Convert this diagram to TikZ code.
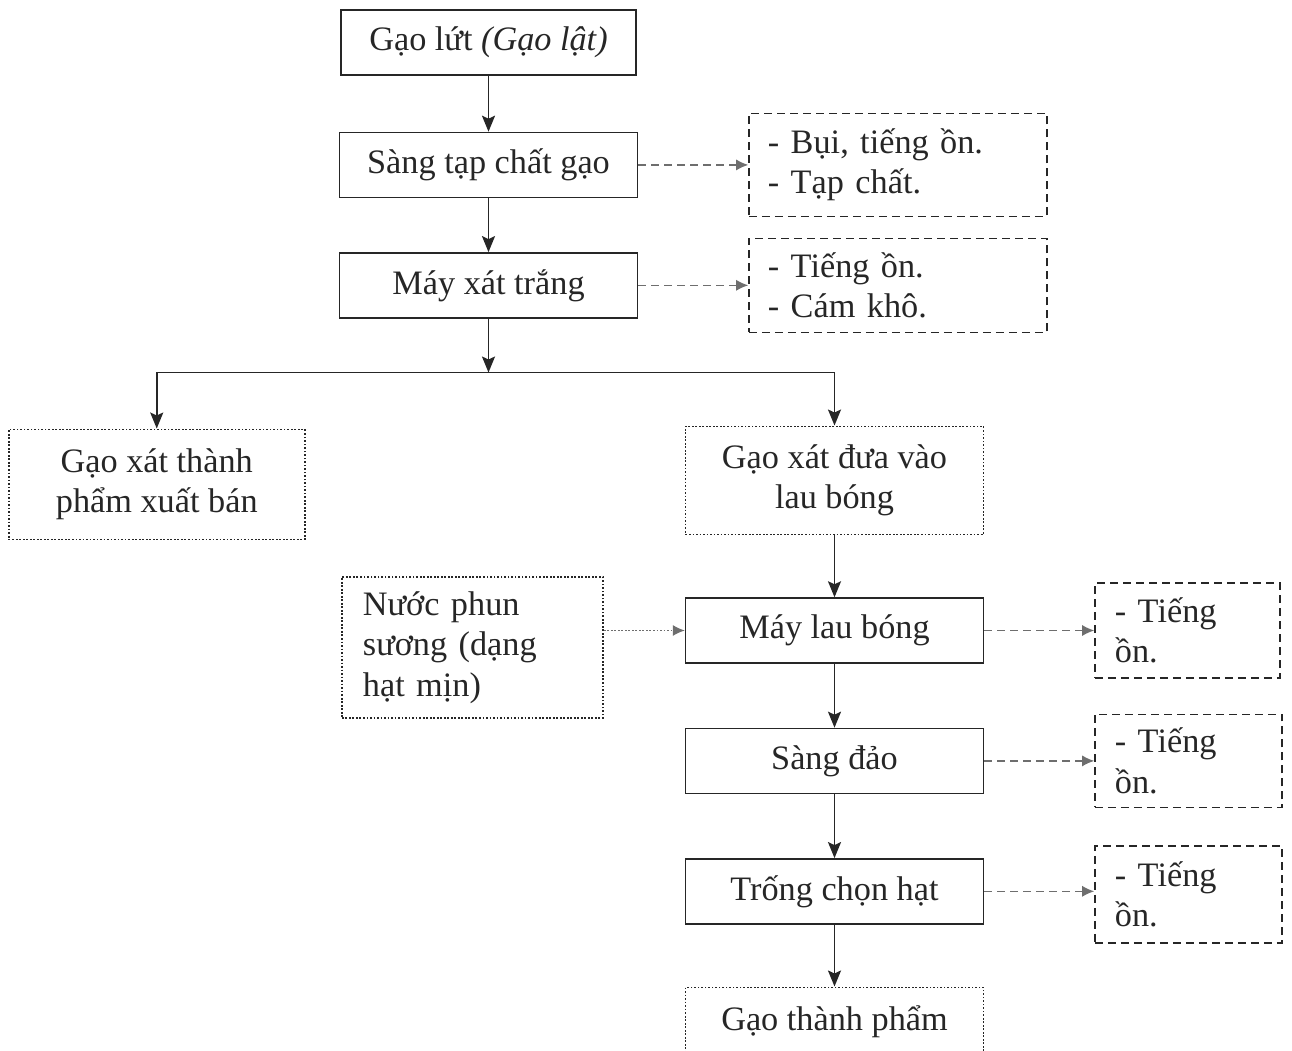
\documentclass[tikz,border=0pt]{standalone}
\usepackage{fontspec}
\setmainfont{Liberation Serif}
\usepackage{tikz}
\usetikzlibrary{arrows.meta,positioning}
\definecolor{ink}{HTML}{262626}
\definecolor{dgray}{HTML}{6E6E6E}
\tikzset{
  txt/.style={font=\fontsize{19.5}{23}\selectfont, text=ink},
  mbox/.style={txt, draw=ink, line width=0.8pt, rectangle, align=center, minimum height=1.3cm, minimum width=5.96cm},
  dbox/.style={txt, draw=ink, line width=1pt, dash pattern=on 1pt off 1pt, align=center, minimum width=5.96cm},
  nbox/.style={txt, draw=ink, line width=0.8pt, dash pattern=on 0.16cm off 0.1cm, align=left, inner xsep=0.38cm},
  arr/.style={-{Stealth[length=3.2mm, width=2.6mm, inset=0.6mm]}, draw=ink, line width=1.1pt},
  sarr/.style={-{Latex[length=2.4mm, width=2.2mm]}, draw=dgray, line width=0.7pt, dash pattern=on 0.16cm off 0.1cm}
}
\begin{document}
\begin{tikzpicture}[node distance=1.2cm]
  \path[use as bounding box, clip] (0,0) rectangle (25.84,-21);
  \node[mbox, minimum width=5.9cm] (gl) at (9.77,-0.85) {Gạo lứt \textit{(Gạo lật)}};
  \node[mbox, below=1.12cm of gl] (sang) {Sàng tạp chất gạo};
  \node[mbox, below=1.08cm of sang] (may) {Máy xát trắng};
  \coordinate[below=1.08cm of may] (br);
  \node[dbox, minimum height=2.16cm, below=2.14cm of may, xshift=6.92cm] (lb) {Gạo xát đưa vào\\lau bóng};
  \node[dbox, minimum height=2.2cm, minimum width=5.92cm, left=7.58cm of lb, yshift=-0.08cm] (gx) {Gạo xát thành\\phẩm xuất bán};
  \node[mbox, below=1.24cm of lb] (mlb) {Máy lau bóng};
  \node[mbox, below=1.28cm of mlb] (sd) {Sàng đảo};
  \node[mbox, below=1.28cm of sd] (tch) {Trống chọn hạt};
  \node[dbox, minimum height=1.36cm, below=1.24cm of tch] (gtp) {Gạo thành phẩm};
  \node[nbox, right=2.2cm of sang, text width=5.2cm, minimum height=2.06cm] (bui) {- Bụi, tiếng ồn.\\- Tạp chất.};
  \node[nbox, right=2.2cm of may, text width=5.2cm, minimum height=1.88cm] (tg) {- Tiếng ồn.\\- Cám khô.};
  \node[nbox, right=2.2cm of mlb, text width=2.9cm, minimum height=1.9cm, inner xsep=0.4cm] (n1) {- Tiếng\\ồn.};
  \node[nbox, right=2.2cm of sd, text width=2.94cm, minimum height=1.86cm, inner xsep=0.4cm] (n2) {- Tiếng\\ồn.};
  \node[nbox, right=2.2cm of tch, text width=2.94cm, minimum height=1.94cm, inner xsep=0.4cm, yshift=-0.06cm] (n3) {- Tiếng\\ồn.};
  \node[dbox, left=1.62cm of mlb, yshift=-0.34cm, minimum width=5.22cm, minimum height=2.82cm, text width=4.38cm, align=left, inner xsep=0.42cm] (nuoc) {Nước phun\\sương (dạng\\hạt mịn)};
  \draw[arr] (gl) -- (sang); \draw[arr] (sang) -- (may); \draw[arr] (may) -- (br);
  \draw[arr] (br) -| (gx.north); \draw[arr] (br) -| (lb.north);
  \draw[arr] (lb) -- (mlb); \draw[arr] (mlb) -- (sd);
  \draw[arr] (sd) -- (tch); \draw[arr] (tch) -- (gtp);
  \draw[sarr] (sang) -- (bui); \draw[sarr] (may) -- (tg);
  \draw[sarr] (mlb) -- (n1); \draw[sarr] (sd) -- (n2);
  \draw[sarr] (tch.east) -- (tch.east -| n3.west);
  \draw[sarr, dash pattern=on 1pt off 1pt] (nuoc.east |- mlb.west) -- (mlb.west);
\end{tikzpicture}
\end{document}
